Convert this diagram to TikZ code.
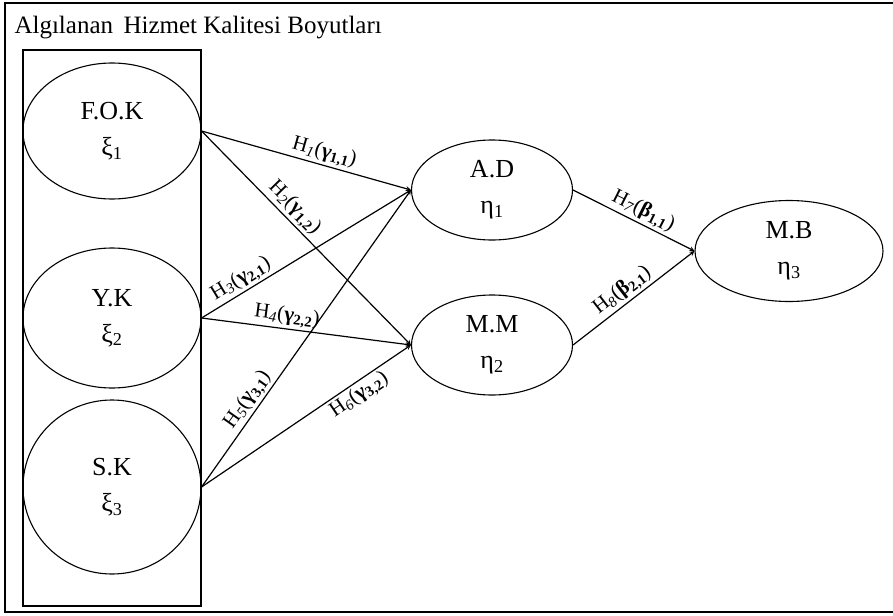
\documentclass[tikz,border=0pt]{standalone}
\usepackage{fontspec}
\setmainfont{Liberation Serif}
\usetikzlibrary{shapes.geometric}

\begin{document}
\begin{tikzpicture}[x=1pt,y=-1pt,>=stealth]
  \tikzstyle{latent} = [ellipse, draw, line width=1.1pt, inner sep=0pt, align=center, font=\fontsize{26}{36}\selectfont]
  \tikzstyle{hyp} = [->, line width=1.2pt]
  \tikzstyle{hlab} = [sloped, inner sep=2pt, font=\fontsize{21}{21}\selectfont]
  \useasboundingbox (0,0) rectangle (893,615);
  \draw[line width=2pt] (895,3) -- (5,3) -- (5,612) -- (895,612);
  \draw[line width=1.4pt] (23,50) rectangle (201,606);
  \node[anchor=west, font=\fontsize{25}{28}\selectfont] (title) at (11,28) {Algılanan\, Hizmet Kalitesi Boyutları};
  % exogenous
  \node[latent, minimum width=178pt, minimum height=136pt] (fok) at (112,131) {F.O.K\\ξ\textsubscript{1}};
  \node[latent, minimum width=178pt, minimum height=140pt] (yk) at (112,318) {Y.K\\ξ\textsubscript{2}};
  \node[latent, minimum width=178pt, minimum height=174pt] (sk) at (112,487) {S.K\\ξ\textsubscript{3}};
  % endogenous
  \node[latent, minimum width=161pt, minimum height=100pt] (ad) at (492,190) {A.D\\η\textsubscript{1}};
  \node[latent, minimum width=161pt, minimum height=100pt] (mm) at (492,345) {M.M\\η\textsubscript{2}};
  \node[latent, minimum width=188pt, minimum height=101pt] (mb) at (789,251) {M.B\\η\textsubscript{3}};
  % hypotheses
  \draw[hyp] (fok.east) -- (ad.west) node[hlab, pos=0.57, above] {H\textsubscript{\textit{1}}(\textbf{γ}\textsubscript{\textbf{1,1}})};
  \draw[hyp] (fok.east) -- (mm.west) node[hlab, pos=0.4, above] {H\textsubscript{\textit{2}}(\textbf{γ}\textsubscript{\textbf{1,2}})};
  \draw[hyp] (yk.east) -- (ad.west) node[hlab, pos=0.22, above] {H\textsubscript{\textit{3}}(\textbf{γ}\textsubscript{\textbf{2,1}})};
  \draw[hyp] (yk.east) -- (mm.west) node[hlab, pos=0.4, above] {H\textsubscript{\textit{4}}(\textbf{γ}\textsubscript{\textbf{2,2}})};
  \draw[hyp] (sk.east) -- (ad.west) node[hlab, pos=0.27, above] {H\textsubscript{\textit{5}}(\textbf{γ}\textsubscript{\textbf{3,1}})};
  \draw[hyp] (sk.east) -- (mm.west) node[hlab, pos=0.72, below] {H\textsubscript{\textit{6}}(\textbf{γ}\textsubscript{\textbf{3,2}})};
  \draw[hyp] (ad.east) -- (mb.west) node[hlab, pos=0.53, above] {H\textsubscript{\textit{7}}(\textbf{β}\textsubscript{\textbf{1,1}})};
  \draw[hyp] (mm.east) -- (mb.west) node[hlab, pos=0.47, above] {H\textsubscript{\textit{8}}(\textbf{β}\textsubscript{\textbf{2,1}})};
\end{tikzpicture}
\end{document}
